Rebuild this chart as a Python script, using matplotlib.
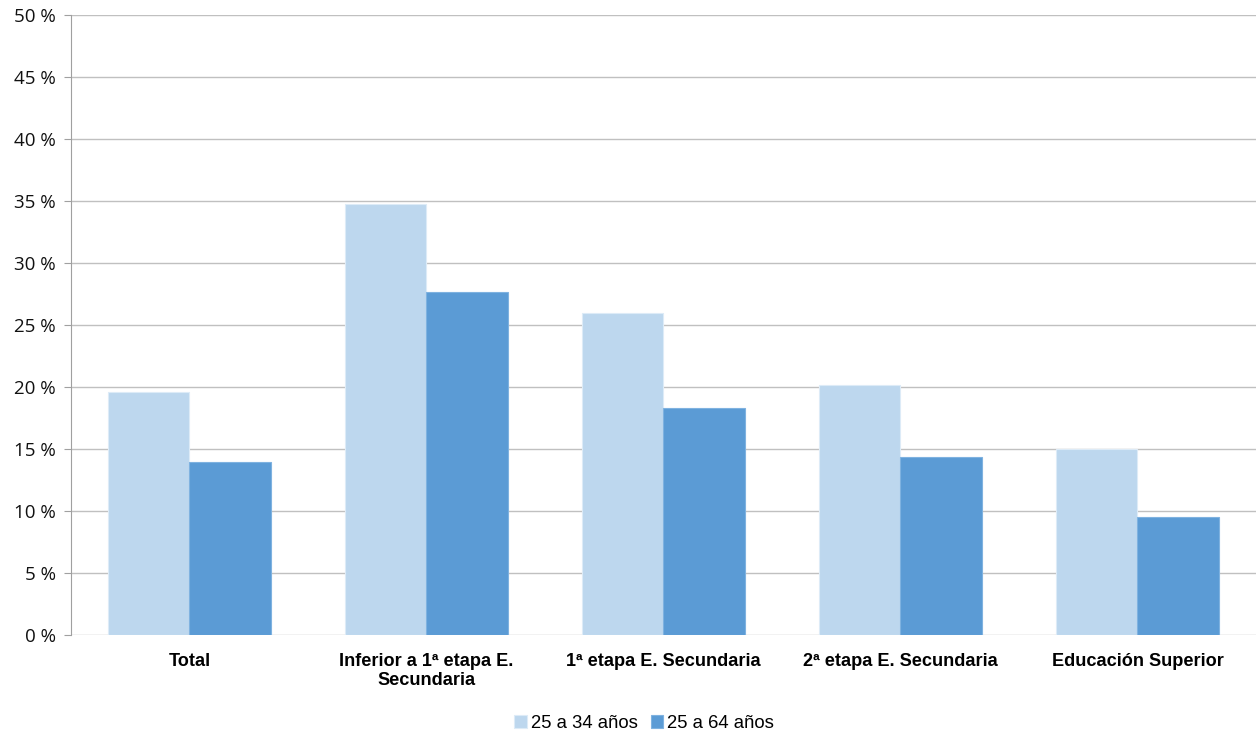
import matplotlib
matplotlib.use('Agg')
from matplotlib import pyplot as plt
from matplotlib.ticker import FuncFormatter
import numpy as np

# Data
categories = ['Total', 'Inferior a 1ª etapa E.\nSecundaria', '1ª etapa E. Secundaria',
              '2ª etapa E. Secundaria', 'Educación Superior']
serie_25_34 = [19.6, 34.8, 26.0, 20.2, 15.0]
serie_25_64 = [14.0, 27.7, 18.3, 14.4, 9.5]
series_labels = ['25 a 34 años', '25 a 64 años']

light = '#BDD7EE'
dark = '#5B9BD5'

fig = plt.figure(figsize=(12.58, 7.36), dpi=100)
ax = fig.add_axes([0.0564, 0.137, 0.942, 0.8426])

x = np.arange(len(categories))
w = 0.344
ax.bar(x - w / 2, serie_25_34, w, color=light, edgecolor='#DDEBF7', linewidth=0.8,
       label=series_labels[0], zorder=3)
ax.bar(x + w / 2, serie_25_64, w, color=dark, edgecolor='#7FB2E0', linewidth=0.8,
       label=series_labels[1], zorder=3)

ax.set_xlim(-0.5, len(categories) - 0.5)
ax.set_ylim(0, 50)
ax.set_yticks(np.arange(0, 51, 5))
ax.yaxis.set_major_formatter(FuncFormatter(lambda v, p: f'{int(v)} %'))
ax.yaxis.grid(True, color='#C0C0C0', linewidth=1, zorder=0)
ax.set_axisbelow(True)

for s in ['top', 'right', 'bottom']:
    ax.spines[s].set_visible(False)
ax.spines['left'].set_color('#A0A0A0')
ax.tick_params(axis='y', length=5, color='#A0A0A0', labelsize=13.5, pad=6)
for lbl in ax.get_yticklabels():
    lbl.set_fontfamily(['Open Sans', 'DejaVu Sans'])
    lbl.set_color('#111111')

ax.set_xticks(x)
ax.set_xticklabels(categories, fontfamily='Liberation Sans', fontweight='bold', fontsize=13.1,
                   linespacing=1.15)
ax.tick_params(axis='x', length=0, pad=13)

fig.legend(loc='lower center', bbox_to_anchor=(0.512, -0.017), ncol=2, frameon=False,
           prop={'family': 'Liberation Sans', 'size': 13.3},
           handlelength=0.7, handleheight=0.7, handletextpad=0.2, columnspacing=0.7)

fig.savefig('out.png', dpi=100)
